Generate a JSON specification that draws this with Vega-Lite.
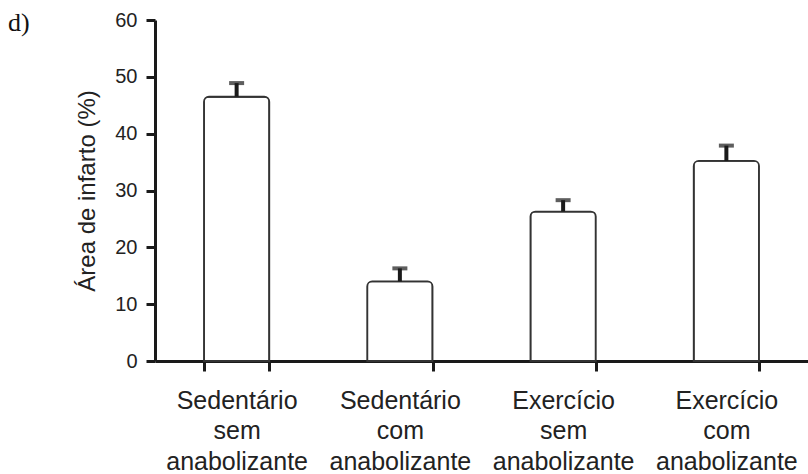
{
  "$schema": "https://vega.github.io/schema/vega-lite/v6.json",
  "width": 653,
  "height": 341,
  "autosize": "none",
  "padding": {"left": 155, "top": 20, "right": 0, "bottom": 113},
  "background": "white",
  "title": {
    "text": "d)",
    "anchor": "start",
    "frame": "group",
    "orient": "top",
    "font": "Liberation Serif",
    "fontSize": 26,
    "fontWeight": "normal",
    "color": "#111",
    "baseline": "alphabetic",
    "offset": 0,
    "dx": -147,
    "dy": 47
  },
  "data": {
    "values": [
      {"grupo": "Sedentário|sem|anabolizante", "area": 46.5, "sup": 48.9},
      {"grupo": "Sedentário|com|anabolizante", "area": 14.0, "sup": 16.3},
      {"grupo": "Exercício|sem|anabolizante", "area": 26.3, "sup": 28.3},
      {"grupo": "Exercício|com|anabolizante", "area": 35.2, "sup": 37.9}
    ]
  },
  "encoding": {
    "x": {
      "field": "grupo",
      "type": "nominal",
      "sort": null,
      "scale": {"paddingInner": 0.6, "paddingOuter": 0.3},
      "axis": {
        "title": null,
        "labelAngle": 0,
        "labelExpr": "split(datum.label, '|')",
        "labelFont": "Liberation Sans",
        "labelFontSize": 25,
        "labelLineHeight": 30.5,
        "labelColor": "#222",
        "labelLimit": 300,
        "labelPadding": 17,
        "labelBaseline": "top",
        "tickBand": "extent",
        "tickSize": 10,
        "tickWidth": 3,
        "tickColor": "#1a1a1a",
        "domainWidth": 3,
        "domainColor": "#1a1a1a"
      }
    }
  },
  "layer": [
    {
      "mark": {
        "type": "bar",
        "fill": "white",
        "stroke": "#333333",
        "strokeWidth": 1.8,
        "cornerRadiusTopLeft": 5,
        "cornerRadiusTopRight": 5
      },
      "encoding": {
        "y": {
          "field": "area",
          "type": "quantitative",
          "scale": {"domain": [0, 60]},
          "axis": {
            "title": "Área de infarto (%)",
            "titleFont": "Liberation Sans",
            "titleFontSize": 24,
            "titleFontWeight": "normal",
            "titleColor": "#222",
            "titlePadding": 15,
            "values": [0, 10, 20, 30, 40, 50, 60],
            "grid": false,
            "labelFont": "Liberation Sans",
            "labelFontSize": 20,
            "labelColor": "#222",
            "labelPadding": 9,
            "tickSize": 9,
            "tickWidth": 3,
            "tickColor": "#1a1a1a",
            "domainWidth": 3,
            "domainColor": "#1a1a1a"
          }
        }
      }
    },
    {
      "mark": {"type": "rule", "strokeWidth": 4, "color": "#1a1a1a"},
      "encoding": {
        "y": {"field": "area", "type": "quantitative"},
        "y2": {"field": "sup"}
      }
    },
    {
      "mark": {"type": "tick", "thickness": 4, "size": 15, "color": "#1a1a1a", "orient": "horizontal"},
      "encoding": {
        "y": {"field": "sup", "type": "quantitative"}
      }
    }
  ],
  "config": {"view": {"stroke": null}}
}
